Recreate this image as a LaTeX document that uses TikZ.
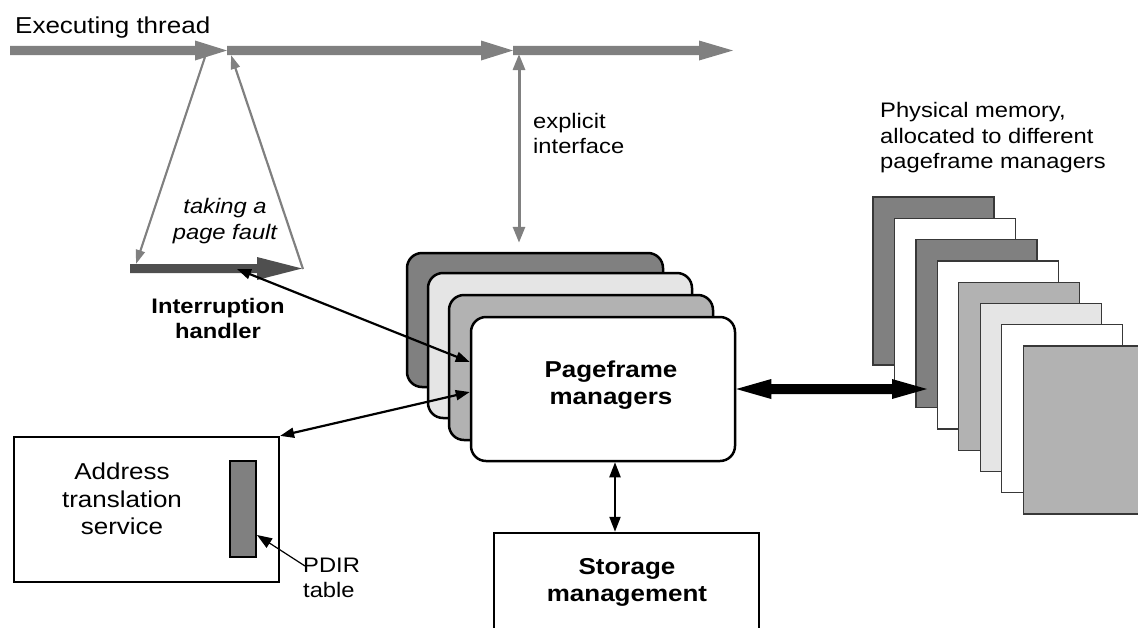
\documentclass[tikz,border=0pt]{standalone}
\usepackage{fontspec}
\setmainfont{Liberation Sans}[FakeStretch=1.13]
\usetikzlibrary{arrows.meta,calc}
\definecolor{g50}{gray}{0.5}
\definecolor{g70}{gray}{0.7}
\definecolor{g90}{gray}{0.9}
\definecolor{g31}{gray}{0.31}
\definecolor{g25}{gray}{0.22}
% fat arrow pointing right: from, to, half shaft, head length, half head, colour
\newcommand\fatR[6]{%
  \fill[#6] let \p1=(#1), \p2=(#2) in
    (\x1,\y1+#3) -- (\x2-#4,\y1+#3) -- (\x2-#4,\y1+#5) -- (\x2,\y1)
    -- (\x2-#4,\y1-#5) -- (\x2-#4,\y1-#3) -- (\x1,\y1-#3) -- cycle;}
% fat double arrow
\newcommand\fatLR[6]{%
  \fill[#6] let \p1=(#1), \p2=(#2) in
    (\x1,\y1) -- (\x1+#4,\y1+#5) -- (\x1+#4,\y1+#3) -- (\x2-#4,\y1+#3)
    -- (\x2-#4,\y1+#5) -- (\x2,\y1) -- (\x2-#4,\y1-#5) -- (\x2-#4,\y1-#3)
    -- (\x1+#4,\y1-#3) -- (\x1+#4,\y1-#5) -- cycle;}
\begin{document}
\begin{tikzpicture}[x=1pt,y=-1pt,
  txt/.style={inner sep=0pt,font=\fontsize{21}{25.5}\selectfont},
  txtL/.style={inner sep=0pt,font=\fontsize{23}{27.5}\selectfont},
  txtB/.style={inner sep=0pt,font=\fontsize{21}{25}\selectfont\bfseries},
  txtLB/.style={inner sep=0pt,font=\fontsize{23}{27}\selectfont\bfseries},
  pmbox/.style={draw=black,line width=2.5pt,rounded corners=15pt,inner sep=0pt},
  plainbox/.style={draw=black,line width=2.2pt,inner sep=0pt},
  page/.style={draw=g25,line width=1.3pt,minimum width=121,minimum height=168,inner sep=0pt},
  gline/.style={draw=g50,line width=2.2pt,-{Triangle[length=14pt,width=9pt]}},
  giface/.style={draw=g50,line width=3pt,{Triangle[length=16pt,width=12pt]}-{Triangle[length=16pt,width=12pt]}},
  bconn/.style={draw=black,line width=2.2pt,{Triangle[length=14pt,width=10pt]}-{Triangle[length=14pt,width=10pt]}},
  pdconn/.style={draw=black,line width=1.2pt,-{Triangle[length=15pt,width=11pt]}}
]
\useasboundingbox (0,0) rectangle (1138,627);
\clip (0,0) rectangle (1138,627);

% executing thread
\coordinate (t0) at (10,50.5);
\coordinate (t1) at (227,50.5);
\coordinate (t2) at (513,50.5);
\coordinate (t3) at (733,50.5);
\fatR{t0}{t1}{4.6pt}{32pt}{10pt}{g50}
\fatR{t1}{t2}{4.6pt}{32pt}{10pt}{g50}
\fatR{t2}{t3}{4.6pt}{34pt}{10pt}{g50}
\node[txtL,anchor=base west] (exec) at (15,33) {Executing thread};

% interruption handler thread
\coordinate (ih0) at (130,268.5);
\coordinate (ih1) at (302,268.5);
\fatR{ih0}{ih1}{4.5pt}{45pt}{11.5pt}{g31}

% page fault triangle
\coordinate (pf1) at (205,57);
\coordinate (pf2) at (136,264);
\coordinate (pf3) at (303,269);
\coordinate (pf4) at (231,55);
\draw[gline] (pf1) -- (pf2);
\draw[gline] (pf3) -- (pf4);
\node[txt,font=\fontsize{21}{25.5}\selectfont\itshape,align=center] (pftext) at (225,221) {taking a\\page fault};
\node[txtB,align=center] (ihtext) at (218,318) {Interruption\\handler};

% pageframe managers
\node[pmbox,fill=g50,minimum width=256,minimum height=134] (pm1) at (535,320) {};
\node[pmbox,fill=g90,minimum width=264,minimum height=145] (pm2) at (560,345.5) {};
\node[pmbox,fill=g70,minimum width=264,minimum height=145] (pm3) at (581,367.5) {};
\node[pmbox,fill=white,minimum width=264,minimum height=144] (pm4) at (603,389) {};
\node[txtLB,align=center] (pmtext) at (611,385.5) {Pageframe\\managers};

% explicit interface
\coordinate (ei) at (519,54);
\draw[giface,shorten >=9pt] (ei) -- (ei |- pm1.north);
\node[txt,align=left,anchor=west] (eitext) at (533,133.4) {explicit\\interface};

% storage management
\node[plainbox,line width=2.5pt,minimum width=265,minimum height=167] (st) at (626.5,616.5) {};
\node[txtLB,align=center] (sttext) at (627,582.5) {Storage\\management};
\draw[bconn,{Triangle[length=15pt,width=11pt]}-{Triangle[length=15pt,width=11pt]}] ([xshift=12pt]pm4.south) -- ([xshift=12pt]pm4.south |- st.north);

% address translation service
\node[plainbox,minimum width=265,minimum height=145] (at) at (146.5,509.5) {};
\node[txtL,align=center] (attext) at (122,499) {Address\\translation\\service};
\node[draw=black,line width=2pt,fill=g50,minimum width=26,minimum height=96,inner sep=0pt] (pdir) at (243,509) {};
\coordinate (pdl) at (305,566);
\draw[pdconn] (pdl) -- ([yshift=-26pt]pdir.east);
\node[txt,align=left,anchor=west] (pdtext) at (303,578) {PDIR\\table};

% connectors from pageframe managers
\coordinate (ihp) at (237,269);
\draw[bconn] (ihp) -- ([yshift=27pt]pm4.west);
\draw[bconn] ([yshift=-3pt]pm4.west) -- (at.north east);

% physical memory
\foreach \c [count=\i from 0] in {g50,white,g50,white,g70,g90,white,g70} {
  \node[page,fill=\c] (pg\i) at (933.5+21.45*\i,281+21.3*\i) {};
}
\node[txt,align=left,anchor=west] (memtext) at (880,137.6) {Physical memory,\\allocated to different\\pageframe managers};
\coordinate (memtip) at (927,389);
\fatLR{pm4.east}{memtip}{5pt}{35pt}{10pt}{black}
\end{tikzpicture}
\end{document}
